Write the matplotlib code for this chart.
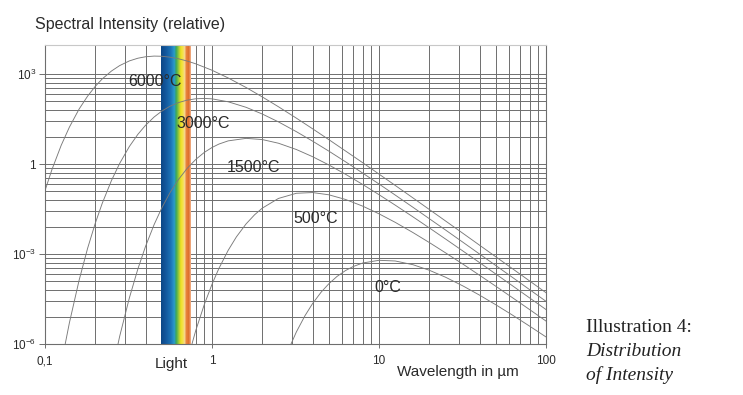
import numpy as np
import matplotlib
matplotlib.use('Agg')
import matplotlib.pyplot as plt
from matplotlib.colors import LinearSegmentedColormap
from matplotlib.ticker import FixedLocator, LogLocator, NullFormatter

plt.rcParams['font.family'] = ['Liberation Sans', 'DejaVu Sans']
plt.rcParams['mathtext.fontset'] = 'custom'
plt.rcParams['mathtext.rm'] = 'Liberation Sans'
plt.rcParams['mathtext.it'] = 'Liberation Sans:italic'

# wavelength (um) / relative spectral intensity
wl_6000 = [0.1, 0.11, 0.125, 0.14, 0.16, 0.18, 0.2, 0.22, 0.25, 0.28, 0.32, 0.36, 0.4, 0.45, 0.5,
           0.56, 0.63, 0.71, 0.8, 1, 1.25, 1.6, 2, 2.5, 3.2, 4, 5, 6.3, 8, 10, 12.5, 16, 20, 25,
           32, 40, 50, 63, 80, 100]
int_6000 = [0.13, 0.65, 4.2, 17, 68, 184, 390, 685, 1260, 1916, 2740, 3374, 3770, 3970, 3920,
            3659, 3230, 2717, 2190, 1340, 741, 356, 173, 81.2, 33.9, 15.0, 6.55, 2.73, 1.10, 0.462,
            0.194, 0.0737, 0.0306, 0.0127, 4.78e-3, 1.97e-3, 8.12e-4, 3.24e-4, 1.25e-4, 5.13e-5]

wl_3000 = [0.125, 0.14, 0.16, 0.18, 0.2, 0.22, 0.25, 0.28, 0.32, 0.36, 0.4, 0.45, 0.5, 0.56, 0.63,
           0.71, 0.8, 0.9, 1, 1.25, 1.6, 2, 2.5, 3.2, 4, 5, 6.3, 8, 10, 12.5, 16, 20, 25, 32, 40,
           50, 63, 80, 100]
int_3000 = [2.1e-7, 5.1e-6, 1.33e-4, 1.56e-3, 0.0106, 0.0485, 0.282, 1.05, 3.84, 9.80, 19.6, 36.9,
            57.9, 84.3, 112, 135, 150, 154, 149, 119, 77.8, 46.5, 25.4, 12.0, 5.81, 2.71, 1.19,
            0.496, 0.216, 0.0926, 0.0359, 0.0151, 6.34e-3, 2.41e-3, 1.00e-3, 4.15e-4, 1.66e-4,
            6.43e-5, 2.65e-5]

wl_1500 = [0.25, 0.28, 0.32, 0.36, 0.4, 0.45, 0.5, 0.56, 0.63, 0.71, 0.8, 0.9, 1, 1.1, 1.25, 1.6,
           2, 2.5, 3.2, 4, 5, 6.3, 8, 10, 12.5, 16, 20, 25, 32, 40, 50, 63, 80, 100]
int_1500 = [9.8e-8, 1.8e-6, 3.44e-5, 3.2e-4, 1.8e-3, 9.51e-3, 0.0341, 0.110, 0.306, 0.717, 1.43,
            2.45, 3.56, 4.63, 5.92, 7.17, 6.55, 4.94, 3.05, 1.76, 0.937, 0.457, 0.207, 0.0952,
            0.0427, 0.0172, 7.44e-3, 3.18e-3, 1.23e-3, 5.17e-4, 2.16e-4, 8.73e-5, 3.40e-5, 1.41e-5]

wl_500 = [0.63, 0.71, 0.8, 0.9, 1, 1.1, 1.25, 1.4, 1.6, 1.8, 2, 2.5, 3.2, 4, 5, 6.3, 8, 10, 12.5,
          16, 20, 25, 32, 40, 50, 63, 80, 100]
int_500 = [1.8e-8, 2.7e-7, 2.86e-6, 2.1e-5, 9.8e-5, 3.31e-4, 1.33e-3, 3.73e-3, 0.0101, 0.0204,
           0.0338, 0.0713, 0.106, 0.112, 0.0944, 0.0660, 0.0393, 0.0219, 0.0114, 5.16e-3, 2.42e-3,
           1.10e-3, 4.50e-4, 1.96e-4, 8.45e-5, 3.49e-5, 1.39e-5, 5.82e-6]

wl_0 = [2.5, 2.8, 3.2, 3.6, 4, 4.5, 5, 5.6, 6.3, 7, 8, 10, 12.5, 16, 20, 25, 32, 40, 50, 63, 80, 100]
int_0 = [8.6e-8, 4.7e-7, 2.52e-6, 8.7e-6, 2.22e-5, 5.33e-5, 1.01e-4, 1.78e-4, 2.81e-4, 3.82e-4,
         5.03e-4, 6.17e-4, 5.86e-4, 4.39e-4, 2.88e-4, 1.69e-4, 8.48e-5, 4.26e-5, 2.04e-5, 9.18e-6,
         3.90e-6, 1.72e-6]

curves = [(wl_6000, int_6000), (wl_3000, int_3000), (wl_1500, int_1500),
          (wl_500, int_500), (wl_0, int_0)]
curve_labels = ['6000°C', '3000°C', '1500°C', '500°C', '0°C']
label_pos = [(0.314, 585), (0.609, 23.3), (1.23, 0.79), (3.09, 0.0158), (9.35, 7.9e-5)]

# visible light band (um)
band_lo, band_hi = 0.495, 0.75

x_ticks = [0.1, 1, 10, 100]
x_ticklabels = ['0,1', '1', '10', '100']
y_ticks = [1e-6, 1e-3, 1, 1e3]
y_ticklabels = [r'$10^{-6}$', r'$10^{-3}$', '1', r'$10^{3}$']

W, H = 743, 395
fig = plt.figure(figsize=(W / 100, H / 100), dpi=100)
ax = fig.add_axes([45 / W, 1 - 344 / H, 501 / W, 299 / H])
ax.set_xscale('log')
ax.set_yscale('log')
ax.set_xlim(0.1, 100)
ax.set_ylim(1e-6, 9.3e3)

# spectrum strip
spec = LinearSegmentedColormap.from_list('spec', [
    (0.0, '#0c4786'), (0.15, '#12579c'), (0.32, '#1b72b6'), (0.44, '#2a9acb'),
    (0.5, '#38a55c'), (0.58, '#93c63a'), (0.66, '#ece021'), (0.74, '#f5e256'),
    (0.79, '#f6d48e'), (0.84, '#e9843c'), (0.93, '#dd6d2c'), (1.0, '#f2b48e')])
xe = np.geomspace(band_lo, band_hi, 121)
ax.pcolormesh(xe, [1e-6, 9.3e3], np.linspace(0, 1, 120).reshape(1, -1),
              cmap=spec, shading='flat', zorder=1, rasterized=True)

for (wl, val) in curves:
    ax.plot(wl, val, color='#7a7a7a', lw=0.65, zorder=2)

for txt, (lx, ly) in zip(curve_labels, label_pos):
    ax.text(lx, ly, txt, fontsize=11.5, color='#2a2a2a', ha='left', va='center', zorder=3)

# grid: y lines follow a log scale stretched over 3 decades
ax.xaxis.set_major_locator(FixedLocator(x_ticks))
ax.xaxis.set_minor_locator(LogLocator(base=10, subs=np.arange(2, 10)))
ax.xaxis.set_minor_formatter(NullFormatter())
ax.set_xticklabels(x_ticklabels)
ax.yaxis.set_major_locator(FixedLocator(y_ticks))
ax.yaxis.set_minor_locator(FixedLocator([k ** 3 * 10.0 ** e for e in (-6, -3, 0) for k in range(2, 10)]))
ax.yaxis.set_minor_formatter(NullFormatter())
ax.set_yticklabels(y_ticklabels)
ax.set_axisbelow(True)
ax.grid(which='both', color='#6e6e6e', lw=0.7)

ax.tick_params(which='minor', length=0)
ax.tick_params(axis='y', which='major', length=4.5, width=0.7, color='#6e6e6e',
               labelsize=8.5, pad=2, labelcolor='#2a2a2a')
ax.tick_params(axis='x', which='major', length=3, width=0.7, color='#6e6e6e',
               labelsize=8.5, pad=5, labelcolor='#2a2a2a')
for side in ('left', 'bottom', 'right'):
    ax.spines[side].set_color('#6e6e6e')
    ax.spines[side].set_linewidth(0.8)
ax.spines['top'].set_color('#c8c8c8')

fig.text(35 / W, 1 - 25 / H, 'Spectral Intensity (relative)', fontsize=11.5,
         color='#2a2a2a', ha='left', va='center')
fig.text(171 / W, 1 - 364 / H, 'Light', fontsize=11, color='#2a2a2a', ha='center', va='center')
fig.text(458 / W, 1 - 372 / H, 'Wavelength in µm', fontsize=11, color='#2a2a2a',
         ha='center', va='center')

cap = dict(family=['Liberation Serif', 'DejaVu Serif'], fontsize=14, color='#222222',
           ha='left', va='center')
fig.text(586 / W, 1 - 328 / H, 'Illustration 4:', **cap)
fig.text(586 / W, 1 - 352 / H, 'Distribution', style='italic', **cap)
fig.text(586 / W, 1 - 375 / H, 'of Intensity', style='italic', **cap)

fig.savefig('out.png', dpi=100)
